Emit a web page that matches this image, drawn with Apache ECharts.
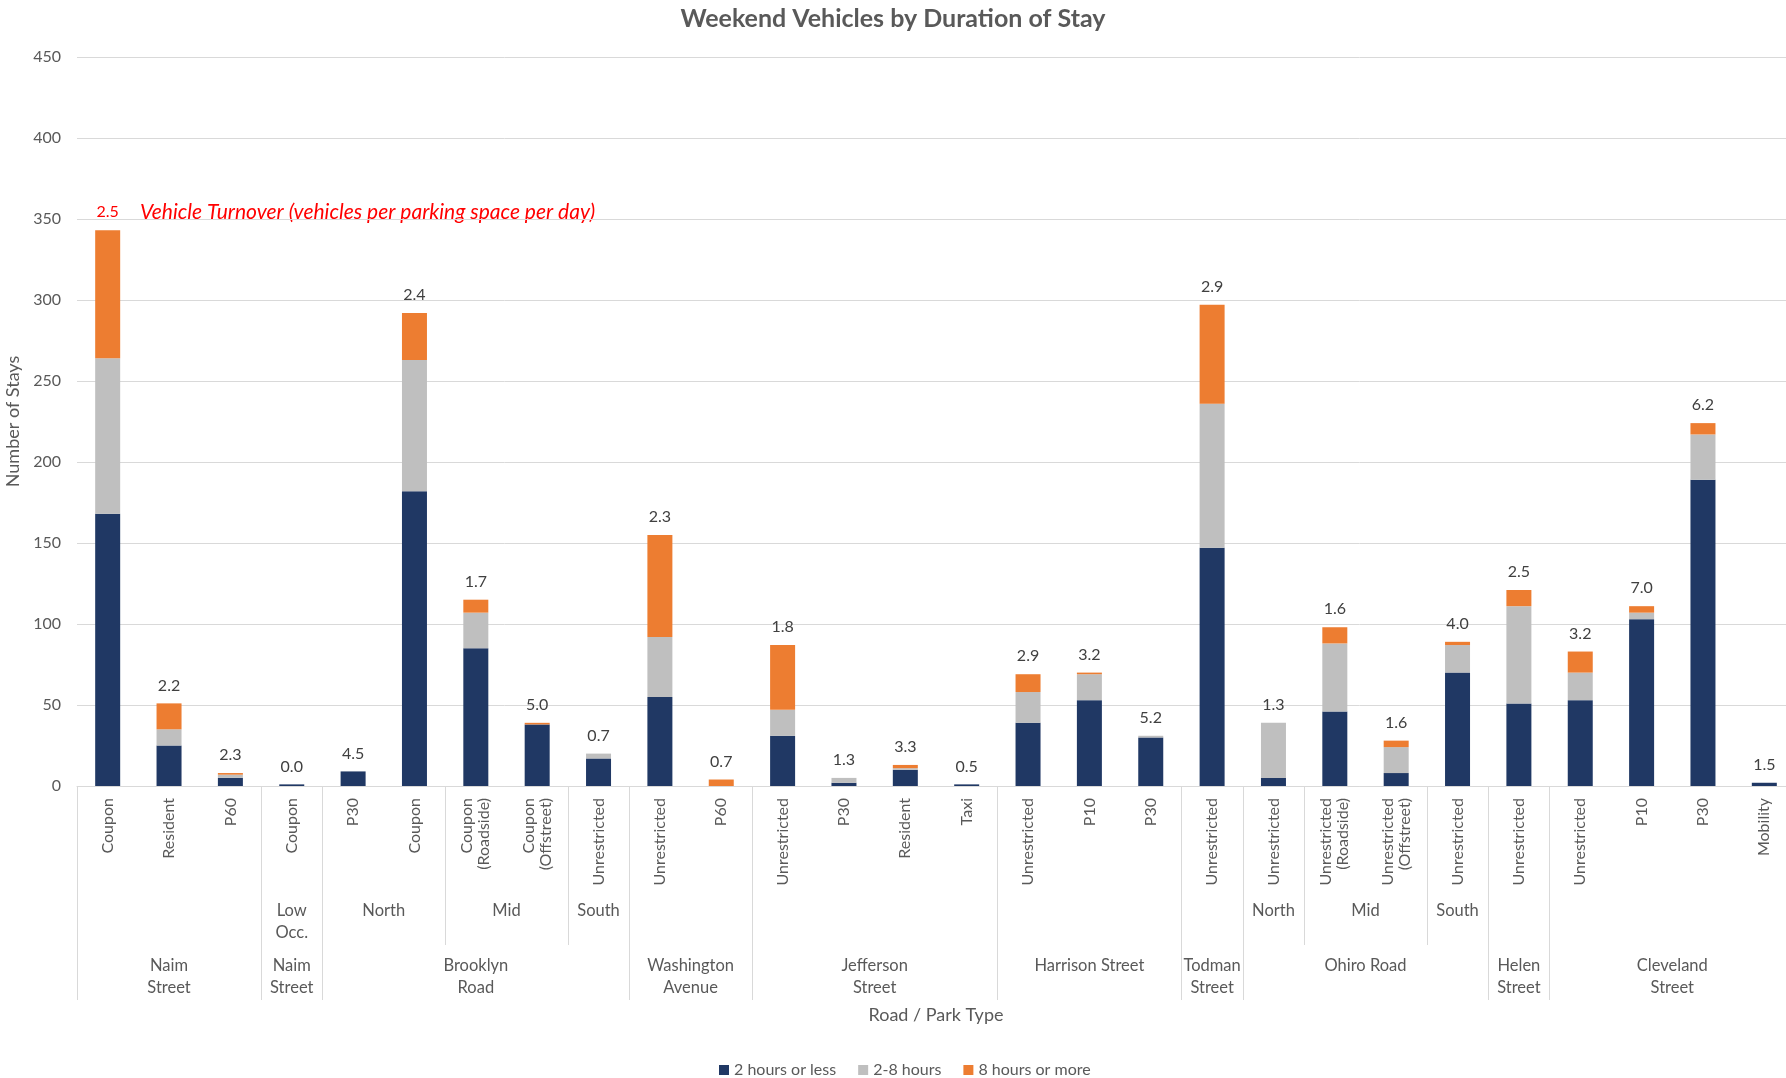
<!DOCTYPE html>
<html>
<head>
<meta charset="utf-8">
<script src="https://cdn.jsdelivr.net/npm/echarts@6/dist/echarts.min.js"></script>
<style>
  html, body { margin: 0; padding: 0; background: #ffffff; }
  #chart { width: 1786px; height: 1078px; }
</style>
</head>
<body>
<div id="chart"></div>
<script>
// Park type of each surveyed block (innermost axis level)
const parkTypes = ['Coupon', 'Resident', 'P60', 'Coupon', 'P30', 'Coupon', 'Coupon\n(Roadside)', 'Coupon\n(Offstreet)',
  'Unrestricted', 'Unrestricted', 'P60', 'Unrestricted', 'P30', 'Resident', 'Taxi', 'Unrestricted', 'P10', 'P30',
  'Unrestricted', 'Unrestricted', 'Unrestricted\n(Roadside)', 'Unrestricted\n(Offstreet)', 'Unrestricted',
  'Unrestricted', 'Unrestricted', 'P10', 'P30', 'Mobility'];

// Number of stays by duration
const shortStay = [168, 25, 5, 1, 9, 182, 85, 38, 17, 55, 0, 31, 2, 10, 1, 39, 53, 30, 147, 5, 46, 8, 70, 51, 53, 103, 189, 2];
const midStay   = [96, 10, 2, 0, 0, 81, 22, 0, 3, 37, 0, 16, 3, 1, 0, 19, 16, 1, 89, 34, 42, 16, 17, 60, 17, 4, 28, 0];
const longStay  = [79, 16, 1, 0, 0, 29, 8, 1, 0, 63, 4, 40, 0, 2, 0, 11, 1, 0, 61, 0, 10, 4, 2, 10, 13, 4, 7, 0];

// Vehicle turnover (vehicles per parking space per day)
const turnover = ['2.5', '2.2', '2.3', '0.0', '4.5', '2.4', '1.7', '5.0', '0.7', '2.3', '0.7', '1.8', '1.3', '3.3',
  '0.5', '2.9', '3.2', '5.2', '2.9', '1.3', '1.6', '1.6', '4.0', '2.5', '3.2', '7.0', '6.2', '1.5'];

// Middle axis level: section of the road, [label, number of blocks]
const sectionGroups = [['', 3], ['Low\nOcc.', 1], ['North', 2], ['Mid', 2], ['South', 1], ['', 10],
  ['North', 1], ['Mid', 2], ['South', 1], ['', 5]];

// Outer axis level: road, [label, number of blocks]
const roadGroups = [['Naim\nStreet', 3], ['Naim\nStreet', 1], ['Brooklyn\nRoad', 5], ['Washington\nAvenue', 2],
  ['Jefferson\nStreet', 4], ['Harrison Street', 3], ['Todman\nStreet', 1], ['Ohiro Road', 4],
  ['Helen\nStreet', 1], ['Cleveland\nStreet', 4]];

const seriesNames = ['2 hours or less', '2-8 hours', '8 hours or more'];
const seriesColors = ['#203864', '#BFBFBF', '#ED7D31'];

const FONT = 'Lato, "Open Sans", sans-serif';
const TEXT = '#595959';
const LINE = '#D9D9D9';

// A group axis uses half-category steps (2n+1 points, no boundary gap) so that
// group labels sit at group centres and ticks sit on group boundaries.
function groupAxis(groups) {
  const n = parkTypes.length;
  const labels = new Array(2 * n + 1).fill('');
  const bounds = new Set();
  let start = 0;
  groups.forEach(([name, count]) => {
    bounds.add(2 * start);
    labels[2 * start + count] = name;
    start += count;
  });
  bounds.add(2 * start);
  return { labels, bounds };
}

const sections = groupAxis(sectionGroups);
const roads = groupAxis(roadGroups);

function groupXAxis(g, tickLen, labelMargin) {
  return {
    type: 'category',
    gridIndex: 0,
    position: 'bottom',
    offset: 0,
    boundaryGap: false,
    data: g.labels,
    axisLine: { show: false, onZero: false },
    axisTick: {
      show: true,
      length: tickLen,
      interval: (idx) => g.bounds.has(idx),
      lineStyle: { color: LINE, width: 1 }
    },
    axisLabel: {
      interval: 0,
      margin: labelMargin,
      color: TEXT,
      fontFamily: FONT,
      fontSize: 16.5,
      lineHeight: 22
    },
    splitLine: { show: false }
  };
}

const chart = echarts.init(document.getElementById('chart'), null, { renderer: 'canvas' });

const option = {
  backgroundColor: '#ffffff',
  animation: false,
  title: {
    text: 'Weekend Vehicles by Duration of Stay',
    left: 'center',
    top: 1,
    textStyle: { color: TEXT, fontFamily: FONT, fontSize: 25, fontWeight: 'bold' }
  },
  legend: {
    data: seriesNames,
    left: 714,
    top: 1057,
    icon: 'rect',
    itemWidth: 10,
    itemHeight: 10,
    itemGap: 22,
    textStyle: { color: TEXT, fontFamily: FONT, fontSize: 16 }
  },
  grid: {
    left: 77,
    right: -9,
    top: 57,
    bottom: 292,
    containLabel: false,
    outerBoundsMode: 'none'
  },
  xAxis: [
    {
      type: 'category',
      gridIndex: 0,
      position: 'bottom',
      data: parkTypes,
      axisLine: { show: true, onZero: false, lineStyle: { color: LINE, width: 1 } },
      axisTick: { show: false },
      axisLabel: {
        interval: 0,
        rotate: 90,
        margin: 12,
        color: TEXT,
        fontFamily: FONT,
        fontSize: 16,
        lineHeight: 17
      },
      name: 'Road / Park Type',
      nameLocation: 'middle',
      nameGap: 220,
      nameTextStyle: { color: TEXT, fontFamily: FONT, fontSize: 18 }
    },
    groupXAxis(sections, 159, 114),
    groupXAxis(roads, 214, 169)
  ],
  yAxis: {
    type: 'value',
    min: 0,
    max: 450,
    interval: 50,
    axisLine: { show: false },
    axisTick: { show: false },
    axisLabel: { color: TEXT, fontFamily: FONT, fontSize: 16, margin: 16 },
    splitLine: { lineStyle: { color: LINE, width: 1 } },
    name: 'Number of Stays',
    nameLocation: 'middle',
    nameGap: 51,
    nameTextStyle: { color: TEXT, fontFamily: FONT, fontSize: 18 }
  },
  graphic: [
    {
      type: 'text',
      left: 140,
      top: 202,
      style: {
        text: 'Vehicle Turnover (vehicles per parking space per day)',
        fill: '#FF0000',
        font: 'italic 21px Lato, "Open Sans", sans-serif'
      }
    }
  ],
  series: [shortStay, midStay, longStay].map((values, i) => ({
    name: seriesNames[i],
    type: 'bar',
    stack: 'stays',
    xAxisIndex: 0,
    barWidth: 25,
    data: values,
    itemStyle: { color: seriesColors[i] },
    label: i === 2 ? {
      show: true,
      position: 'top',
      distance: 10,
      color: '#404040',
      fontFamily: FONT,
      fontSize: 16,
      formatter: (p) => p.dataIndex === 0 ? '{hi|' + turnover[0] + '}' : turnover[p.dataIndex],
      rich: { hi: { color: '#FF0000', fontFamily: FONT, fontSize: 16 } }
    } : { show: false }
  }))
};

chart.setOption(option);
</script>
</body>
</html>
